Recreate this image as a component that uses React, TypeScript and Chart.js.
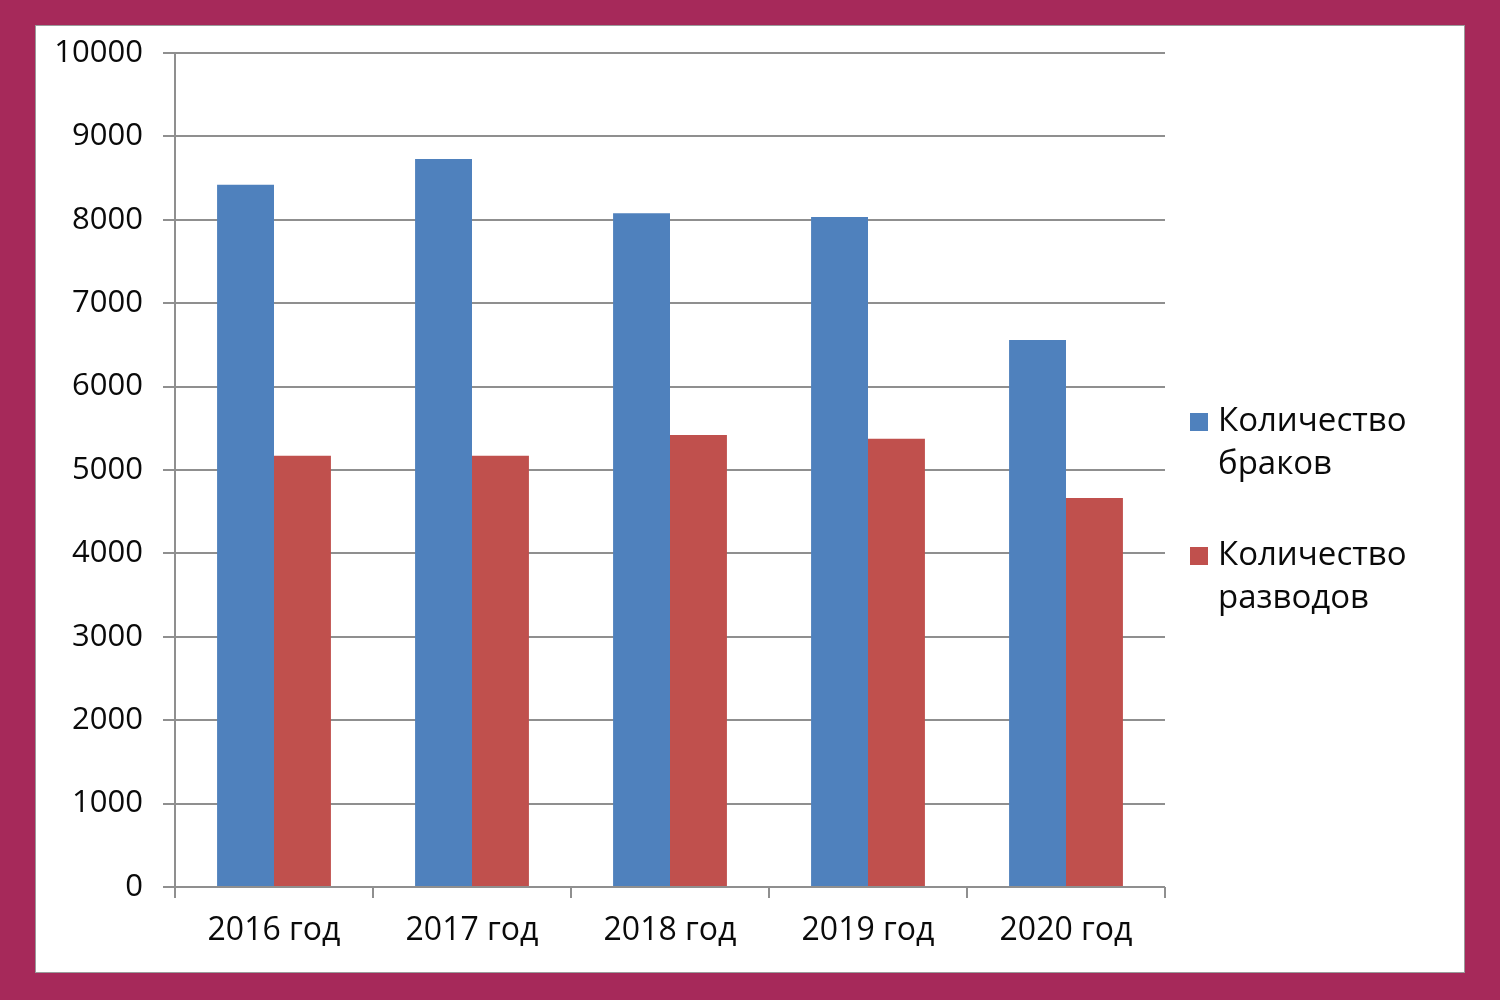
import React, { useEffect, useRef } from "react";
import { Chart, registerables } from "chart.js";

Chart.register(...registerables);

const categories = ["2016 год", "2017 год", "2018 год", "2019 год", "2020 год"];
const marriages = [8420, 8730, 8080, 8035, 6560];
const divorces = [5170, 5170, 5420, 5375, 4665];
const seriesNames = [["Количество", "браков"], ["Количество", "разводов"]];
const yMin = 0;
const yMax = 10000;
const yStep = 1000;

const FONT = "'Open Sans', 'Noto Sans', sans-serif";
const BLUE = "#4F81BD";
const RED = "#C0504D";
const GRID = "#8f8f8f";
const TEXT = "#0a0a0a";

const legendPlugin = {
  id: "sideLegend",
  afterDraw(chart: any) {
    const ctx = chart.ctx;
    const colors = [BLUE, RED];
    const startY = 396;
    const itemGap = 134;
    const lineGap = 43;
    ctx.save();
    ctx.font = `33px ${FONT}`;
    ctx.textBaseline = "middle";
    ctx.textAlign = "left";
    seriesNames.forEach((lines, i) => {
      const y = startY + i * itemGap;
      ctx.fillStyle = colors[i];
      ctx.fillRect(1154, y - 9, 18, 18);
      ctx.fillStyle = TEXT;
      lines.forEach((t, j) => ctx.fillText(t, 1182, y + j * lineGap));
    });
    ctx.restore();
  },
};

function BarChart() {
  const ref = useRef<HTMLCanvasElement | null>(null);
  useEffect(() => {
    if (!ref.current) return;
    const chart = new Chart(ref.current, {
      type: "bar",
      data: {
        labels: categories,
        datasets: [
          { label: seriesNames[0].join(" "), data: marriages, backgroundColor: BLUE },
          { label: seriesNames[1].join(" "), data: divorces, backgroundColor: RED },
        ],
      },
      options: {
        animation: false,
        responsive: false,
        maintainAspectRatio: false,
        layout: { padding: { top: 27, right: 299, left: 0, bottom: 0 } },
        datasets: { bar: { categoryPercentage: 0.575, barPercentage: 1 } },
        plugins: { legend: { display: false }, tooltip: { enabled: false } },
        scales: {
          x: {
            offset: true,
            grid: {
              offset: true,
              drawOnChartArea: false,
              drawTicks: true,
              tickLength: 11,
              color: GRID,
              lineWidth: 2,
            },
            border: { display: false },
            ticks: {
              color: TEXT,
              font: { family: FONT, size: 32 },
              padding: 14,
              maxRotation: 0,
            },
            afterFit: (s: any) => {
              s.height = 85;
              s.paddingLeft = 0;
              s.paddingRight = 0;
            },
          },
          y: {
            min: yMin,
            max: yMax,
            grid: { color: GRID, lineWidth: 2, tickLength: 12, drawTicks: true },
            border: { display: true, color: GRID, width: 2 },
            ticks: {
              stepSize: yStep,
              color: TEXT,
              font: { family: FONT, size: 31 },
              padding: 20,
              callback: (v: any) => String(v),
            },
            afterFit: (s: any) => {
              s.width = 139;
              s.paddingTop = 0;
              s.paddingBottom = 0;
            },
          },
        },
      },
      plugins: [legendPlugin],
    });
    return () => chart.destroy();
  }, []);
  return <canvas ref={ref} width={1428} height={946} style={{ display: "block" }} />;
}

export default function App() {
  return (
    <div
      style={{
        position: "fixed",
        left: 0,
        top: 0,
        width: 1500,
        height: 1000,
        background: "#A6295A",
      }}
    >
      <div
        style={{
          position: "absolute",
          left: 35,
          top: 25,
          width: 1428,
          height: 946,
          background: "#fff",
          border: "1px solid #9a9a9a",
        }}
      >
        <BarChart />
      </div>
    </div>
  );
}
